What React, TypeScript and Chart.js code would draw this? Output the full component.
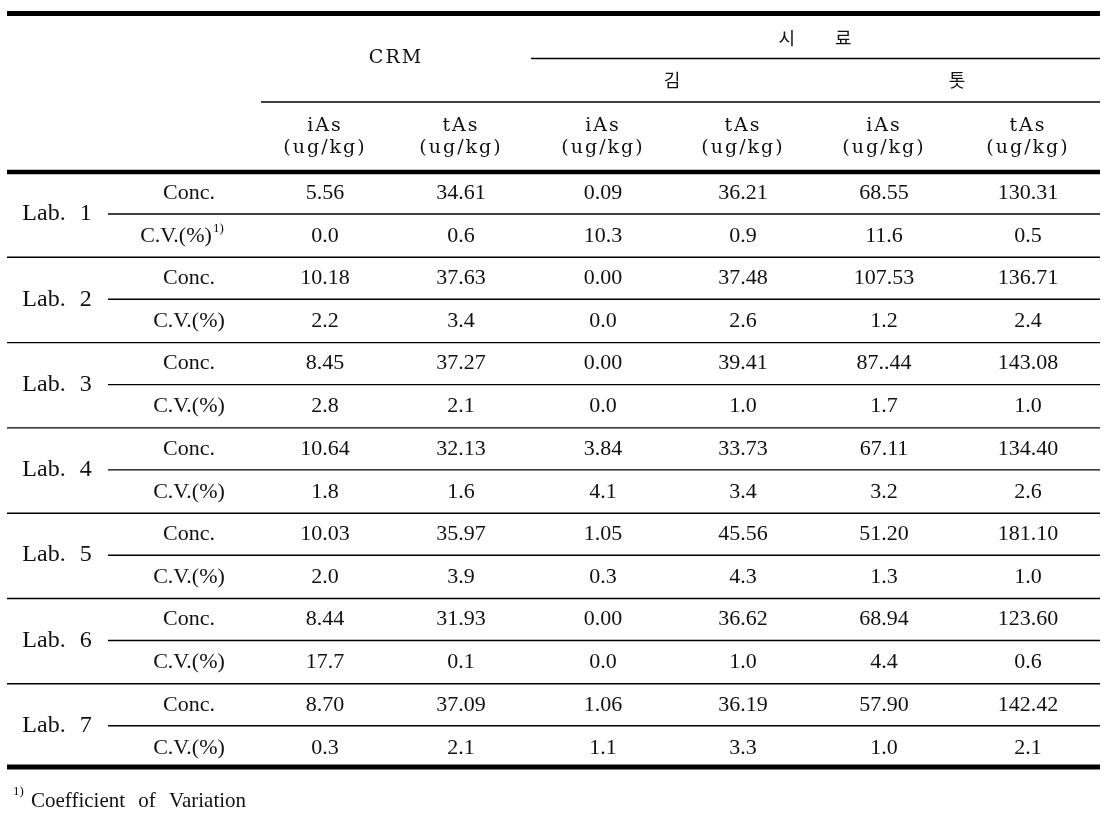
import React, { useEffect, useRef } from "react";
import { Chart, registerables } from "chart.js";

Chart.register(...registerables);

// ---------- data ----------
const labs = ["Lab. 1", "Lab. 2", "Lab. 3", "Lab. 4", "Lab. 5", "Lab. 6", "Lab. 7"];
const rowKinds = ["Conc.", "C.V.(%)"];
const groupTitle = "시 료";
const sampleNames = ["김", "톳"];
const refName = "CRM";
const analytes = ["iAs", "tAs", "iAs", "tAs", "iAs", "tAs"];
const unitLabel = "(ug/kg)";
const footnoteMark = "1)";
const footnoteText = "Coefficient of Variation";

const crmIAsConc = ["5.56", "10.18", "8.45", "10.64", "10.03", "8.44", "8.70"];
const crmIAsCV = ["0.0", "2.2", "2.8", "1.8", "2.0", "17.7", "0.3"];
const crmTAsConc = ["34.61", "37.63", "37.27", "32.13", "35.97", "31.93", "37.09"];
const crmTAsCV = ["0.6", "3.4", "2.1", "1.6", "3.9", "0.1", "2.1"];
const gimIAsConc = ["0.09", "0.00", "0.00", "3.84", "1.05", "0.00", "1.06"];
const gimIAsCV = ["10.3", "0.0", "0.0", "4.1", "0.3", "0.0", "1.1"];
const gimTAsConc = ["36.21", "37.48", "39.41", "33.73", "45.56", "36.62", "36.19"];
const gimTAsCV = ["0.9", "2.6", "1.0", "3.4", "4.3", "1.0", "3.3"];
const totIAsConc = ["68.55", "107.53", "87..44", "67.11", "51.20", "68.94", "57.90"];
const totIAsCV = ["11.6", "1.2", "1.7", "3.2", "1.3", "4.4", "1.0"];
const totTAsConc = ["130.31", "136.71", "143.08", "134.40", "181.10", "123.60", "142.42"];
const totTAsCV = ["0.5", "2.4", "1.0", "2.6", "1.0", "0.6", "2.1"];

const columnSeries = [
  [crmIAsConc, crmIAsCV],
  [crmTAsConc, crmTAsCV],
  [gimIAsConc, gimIAsCV],
  [gimTAsConc, gimTAsCV],
  [totIAsConc, totIAsCV],
  [totTAsConc, totTAsCV],
];

// ---------- layout (pixel units of the x / y scales) ----------
const W = 1112;
const H = 824;
const COL_X = [325, 461, 603, 743, 884, 1028];
const LAB_X = 57;
const KIND_X = 189;
const LEFT = 7;
const RIGHT = 1100;
const BODY_TOP = 172;
const BLOCK_H = 85.3;

const SERIF = '"Liberation Serif", "Times New Roman", serif';
const HFONT = '"DejaVu Serif", serif';
const KFONT = '"Noto Sans CJK KR", sans-serif';

const blockTop = (k: number) => BODY_TOP + k * BLOCK_H;

function textDataset(points: any[], font: string, align = "center", extra: any = {}) {
  return {
    type: "scatter",
    data: points,
    pointRadius: 0,
    pointHoverRadius: 0,
    showLine: false,
    isText: true,
    font,
    align,
    ...extra,
  };
}

function ruleDataset(x0: number, x1: number, y: number, w: number) {
  return {
    type: "scatter",
    data: [
      { x: x0, y },
      { x: x1, y },
    ],
    showLine: true,
    borderColor: "#000",
    borderWidth: w,
    pointRadius: 0,
    pointHoverRadius: 0,
    fill: false,
    tension: 0,
  };
}

function buildDatasets() {
  const ds: any[] = [];
  // rules
  ds.push(ruleDataset(LEFT, RIGHT, 13.5, 5));
  ds.push(ruleDataset(531, RIGHT, 58.5, 1.4));
  ds.push(ruleDataset(261, RIGHT, 102, 1.4));
  ds.push(ruleDataset(LEFT, RIGHT, 172, 4.5));
  labs.forEach((_, k) => {
    ds.push(ruleDataset(108, RIGHT, blockTop(k) + 42, 1.4));
    if (k < labs.length - 1) ds.push(ruleDataset(LEFT, RIGHT, blockTop(k) + BLOCK_H, 1.4));
  });
  ds.push(ruleDataset(LEFT, RIGHT, blockTop(labs.length - 1) + BLOCK_H - 2, 5));

  // body values
  columnSeries.forEach((pair, c) => {
    const pts: any[] = [];
    labs.forEach((_, k) => {
      pts.push({ x: COL_X[c], y: blockTop(k) + 21, t: pair[0][k] });
      pts.push({ x: COL_X[c], y: blockTop(k) + 64, t: pair[1][k] });
    });
    ds.push(textDataset(pts, `22px ${SERIF}`));
  });

  // lab labels
  ds.push(
    textDataset(
      labs.map((l, k) => ({ x: LAB_X, y: blockTop(k) + 42, t: l })),
      `24px ${SERIF}`,
      "center",
      { wordSpacing: "8px" }
    )
  );
  // row kinds
  const kinds: any[] = [];
  labs.forEach((_, k) => {
    kinds.push({ x: KIND_X, y: blockTop(k) + 21, t: rowKinds[0] });
    if (k === 0) kinds.push({ x: 176, y: blockTop(k) + 64, t: rowKinds[1] });
    else kinds.push({ x: KIND_X, y: blockTop(k) + 64, t: rowKinds[1] });
  });
  ds.push(textDataset(kinds, `22px ${SERIF}`));
  // superscripts
  ds.push(
    textDataset(
      [
        { x: 213, y: blockTop(0) + 57, t: footnoteMark },
        { x: 13, y: 792, t: footnoteMark },
      ],
      `13px ${SERIF}`,
      "left"
    )
  );
  // footnote
  ds.push(
    textDataset([{ x: 31, y: 801, t: footnoteText }], `21px ${SERIF}`, "left", { wordSpacing: "8px" })
  );

  // headers
  ds.push(
    textDataset(
      [
        { x: 396, y: 58, t: refName },
        ...analytes.map((a, c) => ({ x: COL_X[c], y: 126, t: a })),
        ...analytes.map((_, c) => ({ x: COL_X[c], y: 148, t: unitLabel })),
      ],
      `19px ${HFONT}`,
      "center",
      { letterSpacing: "2px" }
    )
  );
  ds.push(
    textDataset(
      [
        { x: 815, y: 38, t: groupTitle },
        { x: 672, y: 80, t: sampleNames[0] },
        { x: 957, y: 80, t: sampleNames[1] },
      ],
      `18px ${KFONT}`,
      "center",
      { wordSpacing: "36px" }
    )
  );
  return ds;
}

const tableTextPlugin = {
  id: "tableText",
  afterDatasetsDraw(chart: any) {
    const ctx = chart.ctx as CanvasRenderingContext2D;
    chart.data.datasets.forEach((ds: any, i: number) => {
      if (!ds.isText) return;
      const meta = chart.getDatasetMeta(i);
      ctx.save();
      ctx.fillStyle = "#111";
      ctx.font = ds.font;
      ctx.textAlign = ds.align;
      ctx.textBaseline = "middle";
      (ctx as any).letterSpacing = ds.letterSpacing || "0px";
      (ctx as any).wordSpacing = ds.wordSpacing || "0px";
      meta.data.forEach((el: any, j: number) => {
        ctx.fillText(ds.data[j].t, el.x, el.y);
      });
      ctx.restore();
    });
  },
};

export default function App() {
  const ref = useRef<HTMLCanvasElement | null>(null);
  useEffect(() => {
    if (!ref.current) return;
    const chart = new Chart(ref.current, {
      type: "scatter",
      data: { datasets: buildDatasets() as any },
      options: {
        animation: false,
        responsive: false,
        devicePixelRatio: 1,
        layout: { padding: 0 },
        events: [],
        plugins: { legend: { display: false }, tooltip: { enabled: false }, title: { display: false } },
        scales: {
          x: { type: "linear", min: 0, max: W, display: false },
          y: { type: "linear", min: 0, max: H, reverse: true, display: false },
        },
      } as any,
      plugins: [tableTextPlugin],
    });
    return () => chart.destroy();
  }, []);
  return (
    <div style={{ position: "absolute", left: 0, top: 0, width: W, height: H, background: "#fff" }}>
      <canvas ref={ref} width={W} height={H} style={{ display: "block" }} />
    </div>
  );
}
